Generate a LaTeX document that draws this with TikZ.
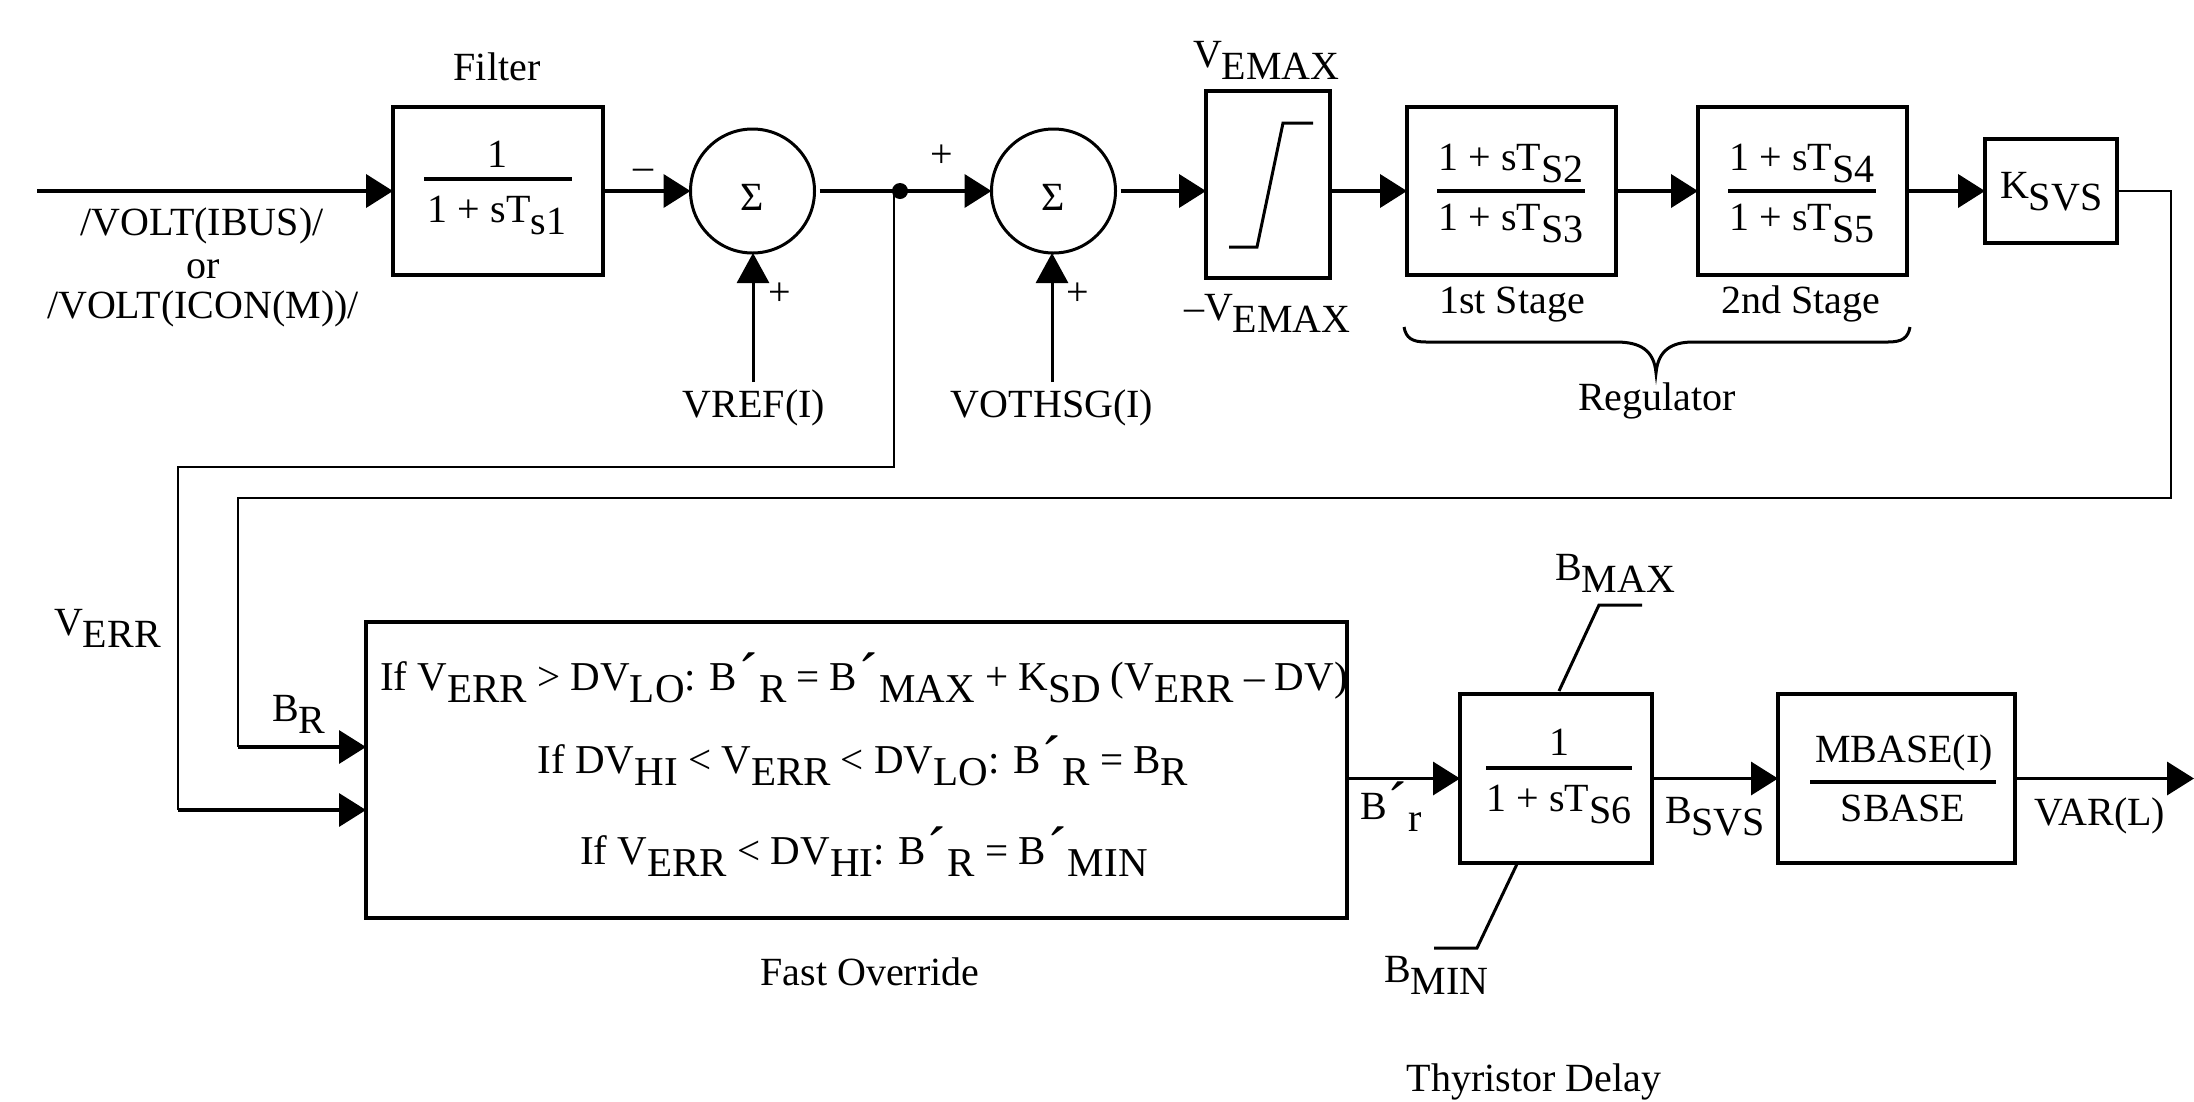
\documentclass[tikz,border=0pt]{standalone}
\usepackage{fontspec}
\setmainfont{Liberation Serif}
\usetikzlibrary{arrows.meta}
\newcommand{\sbs}[1]{\raisebox{-12pt}{#1}}
\newcommand{\prm}{\kern1pt\raisebox{-4pt}{\fontsize{60}{60}\selectfont ´}\kern1pt}
\tikzset{
  x=1pt,y=-1pt,
  every node/.style={inner sep=0pt,outer sep=0pt,font=\fontsize{40}{48}\selectfont},
  blockbox/.style={draw,line width=3.5pt,rectangle},
  sumnode/.style={draw,line width=3pt,circle,minimum size=124pt},
  lbl/.style={anchor=base},
  lblw/.style={anchor=base west},
  rulefont/.style={font=\fontsize{41}{48}\selectfont},
  mainflow/.style={line width=4pt,-{Triangle[length=27pt,width=33pt]}},
  sideflow/.style={line width=3pt,-{Triangle[length=30pt,width=32pt]}},
  thinline/.style={line width=2.5pt},
  thickline/.style={line width=4pt},
  barline/.style={line width=4pt},
  limitline/.style={line width=3pt}
}
\begin{document}
\begin{tikzpicture}
\useasboundingbox (0,0) rectangle (2194,1101);
% blocks
\node[blockbox,minimum width=210pt,minimum height=168pt] (filter) at (498,191) {};
\node[sumnode] (suma) at (752.5,191) {};
\node[sumnode] (sumb) at (1053.5,191) {};
\node[blockbox,minimum width=124pt,minimum height=187pt] (limiter) at (1268,184.5) {};
\node[blockbox,minimum width=209pt,minimum height=168pt] (stagea) at (1511.5,191) {};
\node[blockbox,minimum width=209pt,minimum height=168pt] (stageb) at (1802.5,191) {};
\node[blockbox,minimum width=132pt,minimum height=104pt] (ksvs) at (2051,191) {};
\node[blockbox,minimum width=981pt,minimum height=296pt] (override) at (856.5,770) {};
\node[blockbox,minimum width=192pt,minimum height=169pt] (delay) at (1556,778.5) {};
\node[blockbox,minimum width=237pt,minimum height=169pt] (mbase) at (1896.5,778.5) {};
\node[circle,fill=black,minimum size=16pt] (dot) at (900,191) {};
% free ends and corners
\coordinate (inp) at (37,191);
\coordinate (out) at (2194,778.5);
\coordinate (vrefend) at (753,382);
\coordinate (vothend) at (1052,382);
\coordinate (errtop) at (894,191);
\coordinate (erra) at (894,467);
\coordinate (errb) at (178,467);
\coordinate (errc) at (178,810);
\coordinate (fba) at (2171,191);
\coordinate (fbb) at (2171,498);
\coordinate (fbc) at (238,498);
\coordinate (fbd) at (238,747);
% connectors
\draw[mainflow] (inp) -- (filter.west);
\draw[mainflow] (filter.east) -- (suma.west);
\draw[thickline,shorten <=5pt] (suma.east) -- (dot.center);
\draw[mainflow] (dot.center) -- (sumb.west);
\draw[mainflow,shorten <=5pt] (sumb.east) -- (sumb.east -| limiter.west);
\draw[mainflow] (stagea.west -| limiter.east) -- (stagea.west);
\draw[mainflow] (stagea.east) -- (stageb.west);
\draw[mainflow] (stageb.east) -- (ksvs.west);
\draw[sideflow] (vrefend) -- (vrefend |- suma.south);
\draw[sideflow] (vothend) -- (vothend |- sumb.south);
\draw[thinline] (errtop) -- (erra) -- (errb) -- (errc);
\draw[mainflow,line width=3.5pt] (errc) -- (errc -| override.west);
\draw[thinline] (ksvs.east) -- (fba) -- (fbb) -- (fbc) -- (fbd);
\draw[mainflow,line width=3.5pt] (fbd) -- (fbd -| override.west);
\draw[mainflow,line width=3.5pt] (override.east |- delay.west) -- (delay.west);
\draw[mainflow,line width=3.5pt] (delay.east) -- (mbase.west);
\draw[mainflow,line width=3.5pt] (mbase.east) -- (out);
% limits
\draw[limitline] (1559,691) -- (1599,605) -- (1642,605);
\draw[limitline] (1517,864) -- (1477,948) -- (1434,948);
\draw[limitline,line join=miter] (1229,247) -- (1257,247) -- (1283,123) -- (1313,123);
% brace
\draw[line width=3pt] (1404,327) .. controls (1406,338) and (1412,342) .. (1426,342) -- (1616,342)
  .. controls (1640,342) and (1654,350) .. (1656,373)
  .. controls (1658,350) and (1672,342) .. (1693,342) -- (1888,342)
  .. controls (1902,342) and (1908,338) .. (1910,327);
% fraction bars
\draw[barline] (424,179) -- (572,179);
\draw[barline] (1437,191) -- (1585,191);
\draw[barline] (1728,191) -- (1876,191);
\draw[barline] (1486,768) -- (1632,768);
\draw[barline] (1810,782) -- (1996,782);
% text
\node[lbl] (tfilter) at (497,80) {Filter};
\node[lbl] (tnuma) at (497,167) {1};
\node[lbl] (tdena) at (497,222) {1 + sT\sbs{s1}};
\node[lbl] (tin1) at (202,235) {/VOLT(IBUS)/};
\node[lbl] (tin2) at (203,278) {or};
\node[lbl] (tin3) at (203,318) {/VOLT(ICON(M))/};
\node[lbl] (tminus) at (643,179) {–};
\node[lbl] (tplusa) at (780,305) {+};
\node[lbl] (tplusb) at (942,167) {+};
\node[lbl] (tplusc) at (1078,305) {+};
\node[lbl] (tsiga) at (752,210) {Σ};
\node[lbl] (tsigb) at (1053,210) {Σ};
\node[lbl] (tvref) at (754,417) {VREF(I)};
\node[lbl] (tvoth) at (1052,417) {VOTHSG(I)};
\node[lblw] (tvmax) at (1193,67) {V\sbs{EMAX}};
\node[lblw] (tvmin) at (1184,320) {–V\sbs{EMAX}};
\node[lbl] (tnumb) at (1511,170) {1 + sT\sbs{S2}};
\node[lbl] (tdenb) at (1511,230) {1 + sT\sbs{S3}};
\node[lbl] (tnumc) at (1802,170) {1 + sT\sbs{S4}};
\node[lbl] (tdenc) at (1802,230) {1 + sT\sbs{S5}};
\node[lblw] (tksvs) at (2000,198) {K\sbs{SVS}};
\node[lbl] (tst1) at (1512,313) {1st Stage};
\node[lbl] (tst2) at (1801,313) {2nd Stage};
\node[lbl] (treg) at (1657,410) {Regulator};
\node[lblw] (tverr) at (54,635) {V\sbs{ERR}};
\node[lblw] (tbr) at (272,721) {B\sbs{R}};
\node[lbl,rulefont] (tla) at (864,690) {If V\sbs{ERR} > DV\sbs{LO}: B\prm\sbs{R} = B\prm\sbs{MAX} + K\sbs{SD} (V\sbs{ERR} – DV)};
\node[lbl,rulefont] (tlb) at (863,773) {If DV\sbs{HI} < V\sbs{ERR} < DV\sbs{LO}: B\prm\sbs{R} = B\sbs{R}};
\node[lbl,rulefont] (tlc) at (864,864) {If V\sbs{ERR} < DV\sbs{HI}: B\prm\sbs{R} = B\prm\sbs{MIN}};
\node[lbl] (tfast) at (870,985) {Fast Override};
\node[lblw] (tbrp) at (1360,819) {B\prm\sbs{r}};
\node[lbl] (tnumd) at (1559,755) {1};
\node[lbl] (tdend) at (1559,811) {1 + sT\sbs{S6}};
\node[lblw] (tbsvs) at (1665,823) {B\sbs{SVS}};
\node[lbl] (tmb) at (1904,762) {MBASE(I)};
\node[lbl] (tsb) at (1903,821) {SBASE};
\node[lbl] (tvar) at (2100,825) {VAR(L)};
\node[lblw] (tbmax) at (1555,580) {B\sbs{MAX}};
\node[lblw] (tbmin) at (1384,982) {B\sbs{MIN}};
\node[lbl] (tthy) at (1534,1091) {Thyristor Delay};
\end{tikzpicture}
\end{document}
